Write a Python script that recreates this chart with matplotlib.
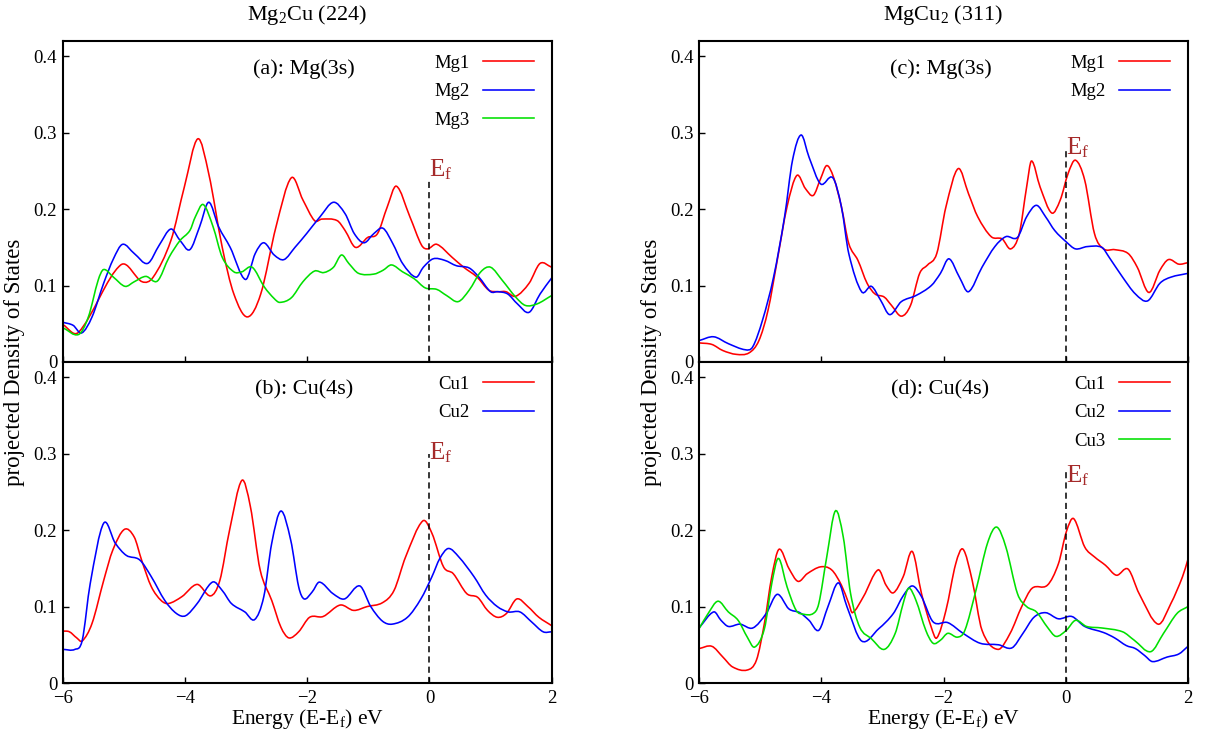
import matplotlib
matplotlib.use("Agg")
import matplotlib.pyplot as plt
from matplotlib.path import Path
from matplotlib.patches import PathPatch
from matplotlib.lines import Line2D

plt.rcParams['font.family'] = ['Liberation Serif', 'DejaVu Serif']
plt.rcParams['mathtext.fontset'] = 'custom'
plt.rcParams['mathtext.rm'] = 'Liberation Serif'
plt.rcParams['mathtext.it'] = 'Liberation Serif:italic'

# ---------------- data (energy in eV, PDOS) ----------------
# (a) Mg2Cu Mg(3s)
a_mg1_e = [-6.0, -5.74, -5.05, -4.70, -4.52, -4.23, -4.01, -3.79, -3.61, -3.39, -3.20, -2.98, -2.76, -2.51, -2.26,
           -2.07, -1.88, -1.76, -1.51, -1.38, -1.21, -1.01, -0.85, -0.69, -0.54, -0.32, -0.13, -0.03, 0.12, 0.37,
           0.56, 0.78, 0.97, 1.12, 1.25, 1.41, 1.63, 1.81, 2.0]
a_mg1_v = [0.049, 0.039, 0.127, 0.105, 0.111, 0.159, 0.229, 0.292, 0.246, 0.150, 0.089, 0.059, 0.089, 0.177, 0.241,
           0.212, 0.185, 0.187, 0.185, 0.172, 0.150, 0.163, 0.168, 0.203, 0.230, 0.190, 0.153, 0.148, 0.154, 0.137,
           0.124, 0.111, 0.094, 0.092, 0.092, 0.086, 0.103, 0.129, 0.124]
a_mg2_e = [-6.0, -5.83, -5.69, -5.52, -5.33, -5.17, -5.02, -4.83, -4.61, -4.42, -4.23, -4.08, -3.92, -3.76, -3.61,
           -3.45, -3.26, -3.01, -2.85, -2.71, -2.54, -2.38, -2.20, -2.01, -1.79, -1.57, -1.38, -1.23, -1.07, -0.91,
           -0.76, -0.60, -0.44, -0.22, -0.10, 0.06, 0.25, 0.44, 0.65, 0.81, 1.0, 1.12, 1.28, 1.44, 1.63, 1.81, 2.0]
a_mg2_v = [0.052, 0.048, 0.038, 0.059, 0.103, 0.135, 0.154, 0.142, 0.129, 0.153, 0.174, 0.159, 0.147, 0.177, 0.209,
           0.177, 0.150, 0.108, 0.142, 0.156, 0.140, 0.134, 0.150, 0.168, 0.190, 0.209, 0.194, 0.168, 0.156, 0.168,
           0.175, 0.155, 0.129, 0.111, 0.124, 0.135, 0.133, 0.126, 0.123, 0.111, 0.092, 0.092, 0.089, 0.076, 0.065,
           0.089, 0.110]
a_mg3_e = [-6.0, -5.74, -5.58, -5.42, -5.33, -5.17, -4.98, -4.83, -4.64, -4.45, -4.26, -4.08, -3.92, -3.83, -3.70,
           -3.54, -3.39, -3.20, -3.07, -2.90, -2.70, -2.54, -2.45, -2.26, -2.07, -1.88, -1.73, -1.57, -1.44, -1.32,
           -1.16, -0.91, -0.76, -0.62, -0.44, -0.25, -0.07, 0.12, 0.28, 0.47, 0.65, 0.84, 1.0, 1.19, 1.41, 1.57,
           1.76, 2.0]
a_mg3_v = [0.045, 0.036, 0.059, 0.107, 0.121, 0.111, 0.099, 0.105, 0.112, 0.106, 0.137, 0.159, 0.172, 0.190, 0.206,
           0.177, 0.137, 0.118, 0.118, 0.124, 0.098, 0.083, 0.078, 0.084, 0.105, 0.119, 0.117, 0.124, 0.140, 0.129,
           0.116, 0.115, 0.120, 0.127, 0.118, 0.109, 0.097, 0.095, 0.087, 0.079, 0.094, 0.118, 0.124, 0.107, 0.085,
           0.074, 0.076, 0.087]

# (b) Mg2Cu Cu(4s)
b_cu1_e = [-6.0, -5.89, -5.77, -5.68, -5.52, -5.33, -5.18, -4.99, -4.83, -4.71, -4.55, -4.39, -4.27, -4.05, -3.80,
           -3.58, -3.43, -3.27, -3.07, -2.93, -2.77, -2.58, -2.43, -2.30, -2.14, -1.96, -1.74, -1.46, -1.24, -1.02,
           -0.77, -0.58, -0.39, -0.11, 0.04, 0.23, 0.39, 0.61, 0.79, 0.95, 1.11, 1.26, 1.43, 1.61, 1.79, 2.0]
b_cu1_v = [0.068, 0.067, 0.059, 0.055, 0.078, 0.134, 0.174, 0.201, 0.191, 0.161, 0.126, 0.108, 0.104, 0.113, 0.129,
           0.114, 0.134, 0.200, 0.265, 0.231, 0.148, 0.108, 0.073, 0.059, 0.067, 0.086, 0.087, 0.102, 0.095, 0.100,
           0.105, 0.121, 0.165, 0.212, 0.196, 0.152, 0.143, 0.117, 0.112, 0.095, 0.086, 0.091, 0.110, 0.100, 0.086,
           0.075]
b_cu2_e = [-6.0, -5.80, -5.68, -5.55, -5.33, -5.14, -4.96, -4.74, -4.55, -4.33, -4.14, -3.99, -3.80, -3.55, -3.39,
           -3.24, -3.02, -2.86, -2.71, -2.58, -2.43, -2.27, -2.14, -2.05, -1.92, -1.80, -1.58, -1.39, -1.14, -0.96,
           -0.77, -0.61, -0.36, -0.14, 0.04, 0.17, 0.31, 0.48, 0.73, 0.92, 1.11, 1.29, 1.48, 1.67, 1.86, 2.0]
b_cu2_v = [0.044, 0.044, 0.056, 0.130, 0.209, 0.183, 0.167, 0.161, 0.139, 0.108, 0.091, 0.088, 0.104, 0.132, 0.121,
           0.104, 0.093, 0.083, 0.113, 0.183, 0.225, 0.187, 0.126, 0.110, 0.119, 0.132, 0.117, 0.110, 0.127, 0.100,
           0.081, 0.077, 0.086, 0.110, 0.139, 0.163, 0.176, 0.165, 0.139, 0.115, 0.100, 0.093, 0.093, 0.080, 0.067,
           0.067]

# (c) MgCu2 Mg(3s)
c_mg1_e = [-6.0, -5.79, -5.61, -5.39, -5.18, -5.02, -4.87, -4.72, -4.56, -4.40, -4.26, -4.13, -4.01, -3.91, -3.80,
           -3.67, -3.55, -3.40, -3.25, -3.12, -2.97, -2.85, -2.69, -2.54, -2.39, -2.26, -2.11, -1.96, -1.76, -1.59,
           -1.44, -1.22, -1.04, -0.90, -0.76, -0.64, -0.56, -0.42, -0.23, -0.09, 0.04, 0.16, 0.31, 0.47, 0.62,
           0.80, 1.02, 1.17, 1.36, 1.54, 1.68, 1.85, 2.0]
c_mg1_v = [0.025, 0.023, 0.015, 0.010, 0.012, 0.028, 0.068, 0.133, 0.203, 0.244, 0.227, 0.218, 0.240, 0.257, 0.242,
           0.203, 0.155, 0.133, 0.103, 0.089, 0.085, 0.074, 0.060, 0.074, 0.116, 0.127, 0.142, 0.203, 0.253, 0.220,
           0.190, 0.164, 0.161, 0.148, 0.168, 0.229, 0.263, 0.229, 0.195, 0.212, 0.247, 0.264, 0.238, 0.168, 0.148,
           0.147, 0.142, 0.124, 0.091, 0.120, 0.134, 0.128, 0.130]
c_mg2_e = [-6.0, -5.76, -5.52, -5.24, -5.12, -4.96, -4.78, -4.60, -4.47, -4.33, -4.20, -4.01, -3.81, -3.67, -3.55,
           -3.34, -3.18, -3.03, -2.88, -2.69, -2.45, -2.20, -2.05, -1.91, -1.74, -1.59, -1.37, -1.16, -0.98, -0.79,
           -0.64, -0.48, -0.33, -0.18, 0.01, 0.16, 0.35, 0.59, 0.71, 0.93, 1.14, 1.34, 1.54, 1.72, 2.0]
c_mg2_v = [0.028, 0.033, 0.024, 0.016, 0.020, 0.055, 0.111, 0.190, 0.264, 0.297, 0.268, 0.233, 0.241, 0.203, 0.142,
           0.092, 0.099, 0.081, 0.062, 0.079, 0.087, 0.100, 0.116, 0.135, 0.111, 0.092, 0.124, 0.151, 0.164, 0.163,
           0.190, 0.205, 0.190, 0.172, 0.157, 0.148, 0.151, 0.150, 0.137, 0.111, 0.089, 0.080, 0.103, 0.111, 0.116]

# (d) MgCu2 Cu(4s)
d_cu1_e = [-6.0, -5.79, -5.61, -5.45, -5.21, -5.06, -4.93, -4.81, -4.69, -4.53, -4.38, -4.23, -4.01, -3.83, -3.67,
           -3.55, -3.49, -3.31, -3.07, -2.94, -2.82, -2.66, -2.51, -2.36, -2.20, -2.11, -1.96, -1.80, -1.68, -1.53,
           -1.37, -1.11, -0.91, -0.72, -0.55, -0.30, -0.12, 0.01, 0.13, 0.31, 0.47, 0.65, 0.83, 1.02, 1.20, 1.51,
           1.72, 1.91, 2.0]
d_cu1_v = [0.045, 0.048, 0.034, 0.021, 0.017, 0.030, 0.078, 0.139, 0.175, 0.150, 0.133, 0.143, 0.152, 0.148, 0.128,
           0.104, 0.092, 0.113, 0.148, 0.128, 0.118, 0.139, 0.172, 0.117, 0.073, 0.059, 0.095, 0.156, 0.175, 0.134,
           0.069, 0.044, 0.065, 0.100, 0.124, 0.128, 0.156, 0.198, 0.215, 0.178, 0.165, 0.154, 0.141, 0.149, 0.117,
           0.077, 0.104, 0.139, 0.162]
d_cu2_e = [-6.0, -5.76, -5.64, -5.52, -5.33, -5.12, -4.90, -4.72, -4.53, -4.35, -4.20, -4.04, -3.89, -3.72, -3.58,
           -3.34, -3.06, -2.82, -2.66, -2.51, -2.36, -2.17, -1.93, -1.68, -1.40, -1.10, -0.88, -0.70, -0.52, -0.33,
           -0.12, 0.10, 0.31, 0.62, 0.80, 0.99, 1.14, 1.29, 1.42, 1.66, 1.85, 2.0]
d_cu2_v = [0.072, 0.093, 0.082, 0.074, 0.077, 0.072, 0.091, 0.116, 0.097, 0.092, 0.082, 0.069, 0.100, 0.131, 0.100,
           0.055, 0.071, 0.091, 0.114, 0.127, 0.113, 0.080, 0.079, 0.065, 0.052, 0.050, 0.046, 0.065, 0.086, 0.092,
           0.084, 0.087, 0.074, 0.066, 0.059, 0.049, 0.045, 0.036, 0.028, 0.034, 0.038, 0.048]
d_cu3_e = [-6.0, -5.85, -5.69, -5.52, -5.36, -5.21, -5.09, -4.93, -4.81, -4.70, -4.56, -4.41, -4.29, -4.13, -4.04,
           -3.91, -3.77, -3.64, -3.52, -3.37, -3.18, -2.97, -2.79, -2.66, -2.57, -2.45, -2.29, -2.17, -2.05, -1.93,
           -1.77, -1.65, -1.47, -1.28, -1.13, -0.98, -0.79, -0.64, -0.48, -0.30, -0.16, 0.01, 0.16, 0.34, 0.59,
           0.93, 1.12, 1.39, 1.60, 1.82, 2.0]
d_cu3_v = [0.071, 0.091, 0.107, 0.093, 0.082, 0.060, 0.047, 0.071, 0.130, 0.163, 0.126, 0.095, 0.090, 0.091, 0.104,
           0.165, 0.225, 0.191, 0.117, 0.073, 0.058, 0.044, 0.065, 0.104, 0.124, 0.108, 0.069, 0.052, 0.056, 0.065,
           0.060, 0.069, 0.121, 0.183, 0.204, 0.178, 0.117, 0.100, 0.093, 0.073, 0.061, 0.069, 0.082, 0.074, 0.072,
           0.067, 0.056, 0.041, 0.065, 0.091, 0.100]

panel_labels = ["(a): Mg(3s)", "(b): Cu(4s)", "(c): Mg(3s)", "(d): Cu(4s)"]
column_titles = ["Mg$_2$Cu (224)", "MgCu$_2$ (311)"]
ef_line_top = [0.238, 0.300, 0.279, 0.276]
ef_label_y = [0.243, 0.292, 0.272, 0.263]
x_ticks = [-6, -4, -2, 0, 2]
y_ticks = [0, 0.1, 0.2, 0.3, 0.4]
y_ticklabels = ["0", "0.1", "0.2", "0.3", "0.4"]

panels = [
    [("Mg1", a_mg1_e, a_mg1_v), ("Mg2", a_mg2_e, a_mg2_v), ("Mg3", a_mg3_e, a_mg3_v)],
    [("Cu1", b_cu1_e, b_cu1_v), ("Cu2", b_cu2_e, b_cu2_v)],
    [("Mg1", c_mg1_e, c_mg1_v), ("Mg2", c_mg2_e, c_mg2_v)],
    [("Cu1", d_cu1_e, d_cu1_v), ("Cu2", d_cu2_e, d_cu2_v), ("Cu3", d_cu3_e, d_cu3_v)],
]
colors = ["#ff0000", "#0000ff", "#00e000"]
ef_color = "#a52a2a"
LW = 1.15


def smooth_path(xs, ys):
    """Cubic Bezier path passing through every read point (Catmull-Rom style)."""
    n = len(xs)
    verts = [(xs[0], ys[0])]
    codes = [Path.MOVETO]
    for i in range(n - 1):
        i0 = max(i - 1, 0)
        i3 = min(i + 2, n - 1)
        h = xs[i + 1] - xs[i]
        # tangents (slopes) at both ends of the segment
        m1 = (ys[i + 1] - ys[i0]) / (xs[i + 1] - xs[i0])
        m2 = (ys[i3] - ys[i]) / (xs[i3] - xs[i])
        verts += [(xs[i] + h / 3, ys[i] + m1 * h / 3),
                  (xs[i + 1] - h / 3, ys[i + 1] - m2 * h / 3),
                  (xs[i + 1], ys[i + 1])]
        codes += [Path.CURVE4, Path.CURVE4, Path.CURVE4]
    return Path(verts, codes)


# ---------------- figure ----------------
W, H = 1208, 729
fig = plt.figure(figsize=(W / 100, H / 100), dpi=100)

col_left = [62.7, 699.0]
col_w = 489.0
row_top = [41.0, 362.0]
row_h = 321.0

for idx, series in enumerate(panels):
    col = idx // 2
    row = idx % 2
    ax = fig.add_axes([col_left[col] / W, 1 - (row_top[row] + row_h) / H, col_w / W, row_h / H])
    handles = []
    for k, (name, e, v) in enumerate(series):
        patch = PathPatch(smooth_path(e, v), facecolor='none', edgecolor=colors[k], lw=LW,
                          transform=ax.transData, clip_on=True)
        ax.add_patch(patch)
        handles.append(Line2D([], [], color=colors[k], lw=LW, label=name))
    ax.set_xlim(-6, 2)
    ax.set_ylim(0, 0.42)
    ax.set_xticks(x_ticks)
    ax.set_yticks(y_ticks)
    ax.set_yticklabels(y_ticklabels)
    ax.tick_params(direction='in', length=4.5, width=1.0, labelsize=13.5, pad=4,
                   top=False, right=False)
    ax.tick_params(axis='x', pad=5)
    if row == 0:
        ax.tick_params(labelbottom=False)
    else:
        ax.set_xlabel("Energy (E-E$_\\mathrm{f}$) eV", fontsize=15.5, labelpad=0)
    for sp in ax.spines.values():
        sp.set_linewidth(1.5)
    # Fermi level marker
    ax.plot([0, 0], [0, ef_line_top[idx]], color='black', lw=1.1, ls=(0, (4, 2.7)))
    ax.text(0.0, ef_label_y[idx], "E$_\\mathrm{f}$", color=ef_color, fontsize=18,
            ha='left', va='baseline')
    ax.text(-2.05, 0.377, panel_labels[idx], fontsize=16, ha='center', va='baseline')
    ax.legend(handles=handles, loc='upper right', bbox_to_anchor=(0.964, 0.958), frameon=False,
              markerfirst=False, fontsize=13.5, handlelength=2.75, handletextpad=0.7,
              labelspacing=0.61, borderpad=0, borderaxespad=0)
    if row == 0:
        fig.text((col_left[col] + col_w / 2) / W, 1 - 20 / H, column_titles[col],
                 fontsize=16, ha='center', va='baseline')

fig.text(15 / W, 1 - 362 / H, "projected Density of States", rotation=90,
         fontsize=16.5, ha='center', va='center')
fig.text(651 / W, 1 - 362 / H, "projected Density of States", rotation=90,
         fontsize=16.5, ha='center', va='center')

fig.savefig("out.png", dpi=100)
